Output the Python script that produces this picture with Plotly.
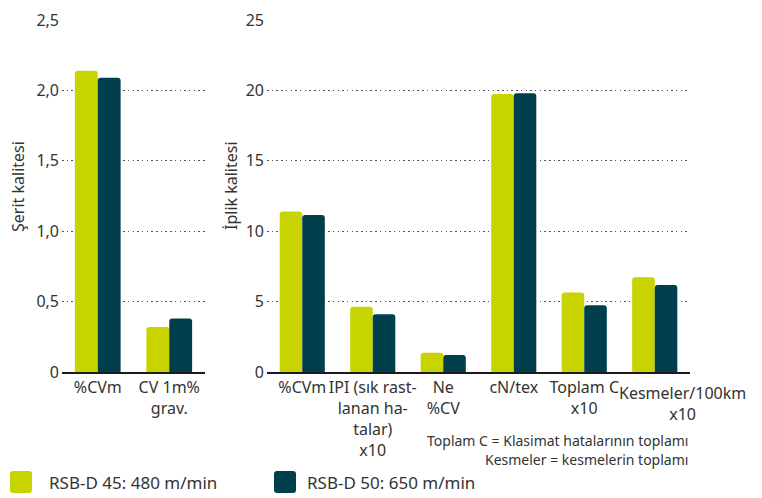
import plotly.graph_objects as go

# ---- data ----
left_categories = ["%CVm", "CV 1m%<br>grav."]
left_rsb45 = [2.14, 0.32]
left_rsb50 = [2.09, 0.38]
left_tickvals = [0, 0.5, 1.0, 1.5, 2.0, 2.5]
left_ticktext = ["0", "0,5", "1,0", "1,5", "2,0", "2,5"]

right_categories = ["%CVm", "IPI (sık rast-<br>lanan ha-<br>talar)<br>x10", "Ne<br>%CV",
                    "cN/tex", "Toplam C<br>x10", "Kesmeler/100km<br>x10"]
right_rsb45 = [11.4, 4.64, 1.37, 19.75, 5.64, 6.73]
right_rsb50 = [11.15, 4.1, 1.21, 19.8, 4.74, 6.18]
right_tickvals = [0, 5, 10, 15, 20, 25]
right_ticktext = ["0", "5", "10", "15", "20", "25"]

series_names = ["RSB-D 45: 480 m/min", "RSB-D 50: 650 m/min"]
footnotes = ["Toplam C = Klasimat hatalarının toplamı", "Kesmeler = kesmelerin toplamı"]

GREEN = "#c8d400"
DARK = "#003f4b"
TXT = "#333333"
FONT = "Noto Sans"

# page body has an 8px margin: build the figure 8px smaller and offset coordinates
OFF = 8
W, H = 762 - OFF, 498 - OFF
def px(x): return (x - OFF) / W
def py(y): return 1 - (y - OFF) / H

fig = go.Figure()
for vals, color, name in [(left_rsb45, GREEN, series_names[0]), (left_rsb50, DARK, series_names[1])]:
    fig.add_trace(go.Bar(x=left_categories, y=vals, marker=dict(color=color, cornerradius=3, line=dict(width=0)),
                         name=name, xaxis="x", yaxis="y", showlegend=False))
for vals, color, name in [(right_rsb45, GREEN, series_names[0]), (right_rsb50, DARK, series_names[1])]:
    fig.add_trace(go.Bar(x=right_categories, y=vals, marker=dict(color=color, cornerradius=3, line=dict(width=0)),
                         name=name, xaxis="x2", yaxis="y2", showlegend=False))

y0, ytop = 372, 20
common_y = dict(showgrid=True, griddash="1.5px,3.2px", gridcolor="#555555", gridwidth=1.2,
                zeroline=False, showline=False, ticks="", automargin=False, ticklabelstandoff=2,
                tickfont=dict(family=FONT, size=16, color=TXT))
common_x = dict(showline=True, linecolor="#1a1a1a", linewidth=2, ticks="", automargin=False,
                tickfont=dict(family=FONT, size=16, color=TXT), tickangle=0)

fig.update_layout(
    width=W, height=H,
    margin=dict(l=0, r=0, t=0, b=0),
    paper_bgcolor="white", plot_bgcolor="white",
    barmode="group", bargap=0.36, bargroupgap=0,
    showlegend=False,
    font=dict(family=FONT, color=TXT),
    xaxis=dict(domain=[px(62), px(205)], anchor="y", range=[-0.5, 1.5], **common_x),
    yaxis=dict(domain=[py(y0), py(ytop)], anchor="x", range=[0, 2.5],
               tickvals=left_tickvals, ticktext=left_ticktext, **common_y),
    xaxis2=dict(domain=[px(267), px(690)], anchor="y2", range=[-0.5, len(right_categories) - 0.5],
                categoryorder="array", categoryarray=right_categories,
                tickvals=list(range(len(right_categories) - 1)),
                ticktext=right_categories[:-1], **common_x),
    yaxis2=dict(domain=[py(y0), py(ytop)], anchor="x2", range=[0, 25],
                tickvals=right_tickvals, ticktext=right_ticktext, **common_y),
)

# last right category label is shifted right in the reference to avoid overlapping
fig.add_annotation(text=right_categories[-1], x=len(right_categories) - 1, xref="x2",
                   y=py(380), yref="paper", yanchor="top", xshift=28, showarrow=False,
                   font=dict(family=FONT, size=16, color=TXT))

# axis titles
fig.add_annotation(text="Şerit kalitesi", x=px(18), y=py(187), xref="paper", yref="paper",
                   xanchor="center", textangle=-90, showarrow=False,
                   font=dict(family=FONT, size=16, color=TXT))
fig.add_annotation(text="İplik kalitesi", x=px(231), y=py(186), xref="paper", yref="paper",
                   xanchor="center", textangle=-90, showarrow=False,
                   font=dict(family=FONT, size=16, color=TXT))

# footnotes
for i, t in enumerate(footnotes):
    fig.add_annotation(text=t, x=px(690), y=py(440 + 19 * i), xref="paper", yref="paper",
                       xanchor="right", yanchor="middle", showarrow=False,
                       font=dict(family=FONT, size=14, color=TXT))

# legend (custom)
def rounded_rect(x0, y0_, x1, y1, r=3):
    rx = r / W
    ry = r / H
    a, b, c, d = px(x0), px(x1), py(y0_), py(y1)  # c top (larger), d bottom
    return (f"M {a+rx},{c} L {b-rx},{c} Q {b},{c} {b},{c-ry} L {b},{d+ry} Q {b},{d} {b-rx},{d} "
            f"L {a+rx},{d} Q {a},{d} {a},{d+ry} L {a},{c-ry} Q {a},{c} {a+rx},{c} Z")

for (x0, color, name, tx) in [(10, GREEN, series_names[0], 47), (274, DARK, series_names[1], 305)]:
    fig.add_shape(type="path", xref="paper", yref="paper", path=rounded_rect(x0, 471, x0 + 22, 493),
                  fillcolor=color, line=dict(width=0))
    fig.add_annotation(text=name, x=px(tx), y=py(482), xref="paper", yref="paper",
                       xanchor="left", yanchor="middle", showarrow=False,
                       font=dict(family=FONT, size=17, color=TXT))

fig.write_html("out.html")
